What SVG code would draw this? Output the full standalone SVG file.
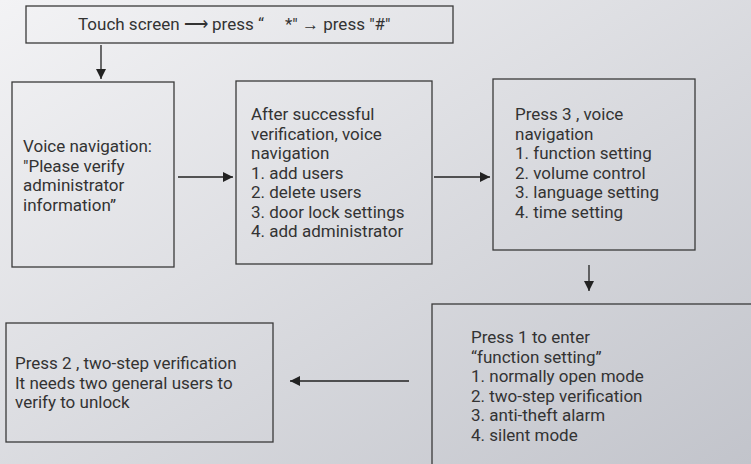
<svg xmlns="http://www.w3.org/2000/svg" width="751" height="464" viewBox="0 0 751 464">
<defs>
<linearGradient id="bg" x1="0" y1="0" x2="1" y2="1">
<stop offset="0" stop-color="#f3f3f5"/>
<stop offset="1" stop-color="#c2c4cb"/>
</linearGradient>
<marker id="ah" viewBox="0 0 10 10" refX="10" refY="5" markerWidth="10" markerHeight="10" markerUnits="userSpaceOnUse" orient="auto">
<path d="M0,0 L10,5 L0,10 z" fill="#222"/>
</marker>
<style>
.box{fill:none;stroke:#3a3a3a;stroke-width:1.3}
.t{font-family:Roboto,"Liberation Sans",sans-serif;font-size:17px;fill:#333}
.c{stroke:#222;stroke-width:1.3;fill:none;marker-end:url(#ah)}
</style>
</defs>
<rect width="751" height="464" fill="url(#bg)"/>
<g id="n1">
<rect class="box" x="26" y="6" width="427" height="37"/>
<text class="t" x="78" y="30" xml:space="preserve">Touch screen ⟶ press “     *" → press "#"</text>
</g>
<g id="n2">
<rect class="box" x="12" y="82" width="162" height="185"/>
<text class="t" y="152"><tspan x="23">Voice navigation:</tspan><tspan x="23" dy="19.5">"Please verify</tspan><tspan x="23" dy="19.5">administrator</tspan><tspan x="23" dy="19.5">information”</tspan></text>
</g>
<g id="n3">
<rect class="box" x="236" y="81" width="196" height="183"/>
<text class="t" y="120"><tspan x="251">After successful</tspan><tspan x="251" dy="19.5">verification, voice</tspan><tspan x="251" dy="19.5">navigation</tspan><tspan x="251" dy="19.5">1. add users</tspan><tspan x="251" dy="19.5">2. delete users</tspan><tspan x="251" dy="19.5">3. door lock settings</tspan><tspan x="251" dy="19.5">4. add administrator</tspan></text>
</g>
<g id="n4">
<rect class="box" x="493" y="79" width="202" height="171"/>
<text class="t" y="120"><tspan x="515">Press 3 , voice</tspan><tspan x="515" dy="19.5">navigation</tspan><tspan x="515" dy="19.5">1. function setting</tspan><tspan x="515" dy="19.5">2. volume control</tspan><tspan x="515" dy="19.5">3. language setting</tspan><tspan x="515" dy="19.5">4. time setting</tspan></text>
</g>
<g id="n5">
<rect class="box" x="432" y="304" width="330" height="170"/>
<text class="t" y="343"><tspan x="471">Press 1 to enter</tspan><tspan x="471" dy="19.5">“function setting”</tspan><tspan x="471" dy="19.5">1. normally open mode</tspan><tspan x="471" dy="19.5">2. two-step verification</tspan><tspan x="471" dy="19.5">3. anti-theft alarm</tspan><tspan x="471" dy="19.5">4. silent mode</tspan></text>
</g>
<g id="n6">
<rect class="box" x="6" y="323" width="267" height="119"/>
<text class="t" y="369"><tspan x="15">Press 2 , two-step verification</tspan><tspan x="15" dy="19.5">It needs two general users to</tspan><tspan x="15" dy="19.5">verify to unlock</tspan></text>
</g>
<g id="connectors">
<line class="c" x1="101" y1="45" x2="101" y2="79"/>
<line class="c" x1="178" y1="177" x2="233" y2="177"/>
<line class="c" x1="434" y1="177" x2="490" y2="177"/>
<line class="c" x1="589" y1="265" x2="589" y2="291"/>
<line class="c" x1="409" y1="381" x2="290" y2="381"/>
</g>
</svg>
